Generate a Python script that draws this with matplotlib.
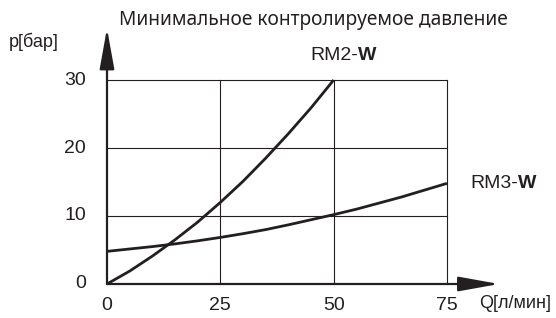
import numpy as np
import matplotlib.pyplot as plt

# data
q_rm2 = [0, 5, 10, 15, 20, 25, 30, 35, 40, 45, 50]
p_rm2 = [0, 1.9, 4.1, 6.5, 9.1, 12.0, 15.1, 18.5, 22.1, 25.9, 30.0]
q_rm3 = [0, 5, 10, 15, 20, 25, 30, 35, 40, 45, 50, 55, 60, 65, 70, 75]
p_rm3 = [4.8, 5.15, 5.5, 5.9, 6.35, 6.85, 7.4, 8.0, 8.7, 9.45, 10.2, 11.0, 11.9, 12.8, 13.8, 14.8]
x_ticks = [0, 25, 50, 75]
y_ticks = [0, 10, 20, 30]

title = "Минимальное контролируемое давление"
ink = "#231f20"
W, H = 556, 318

fig = plt.figure(figsize=(W / 100, H / 100), dpi=100)
ax = fig.add_axes([107 / W, 34 / H, 340 / W, 204 / H])
ax.set_xlim(0, 75)
ax.set_ylim(0, 30)
for s in ax.spines.values():
    s.set_visible(False)
ax.set_xticks([])
ax.set_yticks([])

# grid
for y in y_ticks[1:]:
    ax.plot([0, 75], [y, y], color=ink, lw=0.8, clip_on=False)
for x in x_ticks[1:]:
    ax.plot([x, x], [0, 30], color=ink, lw=0.8, clip_on=False)

# curves
ax.plot(q_rm2, p_rm2, color=ink, lw=2.0, clip_on=False, solid_capstyle="butt")
ax.plot(q_rm3, p_rm3, color=ink, lw=2.0, clip_on=False, solid_capstyle="butt")

# axes with arrows
arrow = dict(arrowstyle="-|>,head_length=2.5,head_width=0.45", color=ink, lw=1.6,
             shrinkA=0, shrinkB=0)
ax.annotate("", xy=(0, 37.6), xytext=(0, 0), arrowprops=arrow, annotation_clip=False)
ax.annotate("", xy=(86.5, 0), xytext=(0, 0), arrowprops=arrow, annotation_clip=False)

# tick labels
tick_font = dict(family="Liberation Sans", fontsize=14, color=ink)
for y in y_ticks:
    ax.text(-4.6, y, str(y), ha="right", va="center", **tick_font)
for x in x_ticks:
    ax.text(x, -1.9, str(x), ha="center", va="top", **tick_font)

# labels
fig.text(313 / W, 1 - 20 / H, title, ha="center", va="center", fontsize=13.8,
         family="Noto Sans", color=ink)
small_font = dict(family="Liberation Sans", fontsize=13, color=ink)
fig.text(9 / W, 1 - 42 / H, "p[бар]", ha="left", va="center", **small_font)
fig.text(479 / W, 1 - 303 / H, "Q[л/мин]", ha="left", va="center", **small_font)

fig.text(358 / W, 1 - 55 / H, "RM2-", ha="right", va="center", **tick_font)
fig.text(358 / W, 1 - 55 / H, "W", ha="left", va="center", fontweight="bold", **tick_font)
fig.text(518 / W, 1 - 183 / H, "RM3-", ha="right", va="center", **tick_font)
fig.text(518 / W, 1 - 183 / H, "W", ha="left", va="center", fontweight="bold", **tick_font)

fig.savefig("out.png", dpi=100)
